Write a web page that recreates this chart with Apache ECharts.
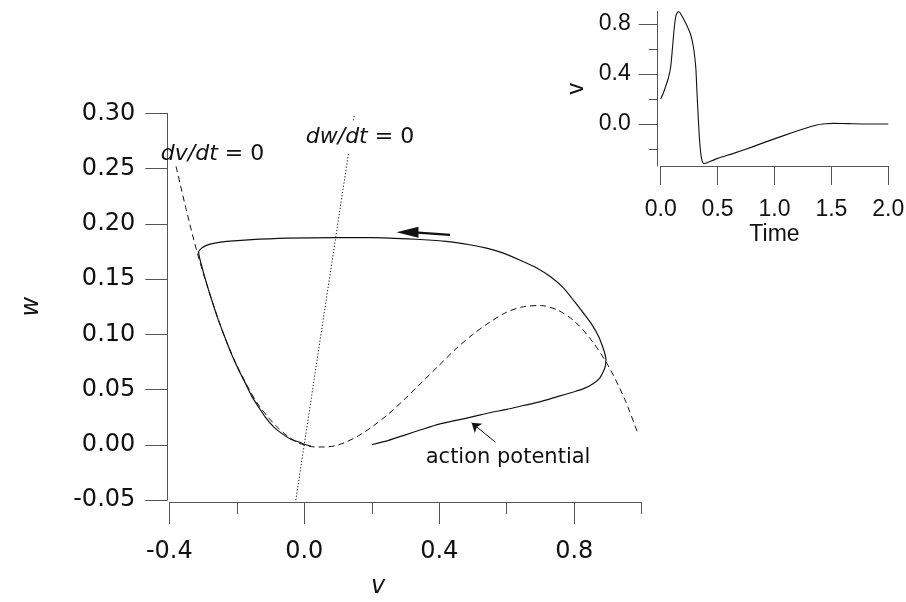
<!DOCTYPE html>
<html><head><meta charset="utf-8">
<script src="https://cdn.jsdelivr.net/npm/echarts@6/dist/echarts.min.js"></script>
<style>html,body{margin:0;padding:0;background:#fff}#c{width:906px;height:602px}</style>
</head><body><div id="c"></div>
<script>
// ---- Phase plane: trajectory (v, w) ----
const trajV = [0.20,0.25,0.30,0.35,0.40,0.45,0.50,0.55,0.60,0.65,0.70,0.75,0.80,0.83,0.857,0.875,0.886,0.892,0.894,
  0.892,0.885,0.872,0.852,0.827,0.80,0.768,0.73,0.689,0.64,0.59,0.54,0.49,0.42,0.33,0.20,0.09,-0.05,-0.166,-0.23,-0.265,-0.29,-0.304,-0.313,
  -0.309,-0.297,-0.284,-0.27,-0.255,-0.24,-0.225,-0.21,-0.195,-0.175,-0.156,-0.135,-0.116,-0.09,-0.067,-0.04,-0.018,0.0,0.02];
const trajW = [0.000,0.004,0.009,0.014,0.0187,0.022,0.0254,0.029,0.032,0.0355,0.039,0.0435,0.048,0.051,0.0555,0.060,0.066,0.071,0.0765,
  0.081,0.088,0.0982,0.109,0.1193,0.130,0.142,0.152,0.160,0.167,0.1735,0.178,0.181,0.184,0.186,0.1875,0.1875,0.187,0.1855,0.184,0.1825,0.1805,0.178,0.1745,
  0.1675,0.154,0.1404,0.127,0.1133,0.101,0.0892,0.078,0.0681,0.056,0.044,0.034,0.0253,0.016,0.0103,0.005,0.0027,0.0005,-0.0012];
// ---- dv/dt = 0 nullcline ----
const vNullV = [-0.38,-0.35,-0.32,-0.29,-0.26,-0.23,-0.20,-0.17,-0.14,-0.11,-0.08,-0.05,-0.02,0.00,0.03,0.06,0.09,0.12,0.16,0.20,0.25,0.30,0.35,0.40,0.45,0.50,0.55,0.60,0.65,0.70,0.75,0.80,0.85,0.90,0.95,0.99];
const vNullW = [0.252,0.213,0.177,0.146,0.118,0.093,0.072,0.054,0.038,0.026,0.016,0.008,0.002,0.000,-0.002,-0.002,-0.001,0.002,0.008,0.016,0.028,0.042,0.057,0.072,0.087,0.100,0.111,0.120,0.125,0.126,0.122,0.112,0.095,0.072,0.041,0.009];
// ---- dw/dt = 0 nullcline ----
const wNullV = [-0.025, 0.148];
const wNullW = [-0.05, 0.298];
// ---- arrows ----
const flowArrowV = [0.432, 0.337];
const flowArrowW = [0.190, 0.192];
const flowHead = [0.306, 0.1923];
const apArrow = [[0.567, 0.0022], [0.496, 0.0199]];
// ---- annotation texts ----
const notes = [
  {v: -0.272, w: 0.2632, text: '{i|dv/dt}{n| = 0}', bg: false},
  {v: 0.165, w: 0.2786, text: '{i|dw/dt}{n| = 0}', bg: true},
  {v: 0.604, w: -0.012, text: '{a|action potential}', bg: false}
];
// ---- main axes ticks ----
const mainXMajor = [-0.4, 0.0, 0.4, 0.8];
// ---- inset: v(t) ----
const insetT = [0.000,0.020,0.038,0.067,0.088,0.102,0.117,0.132,0.145,0.155,0.170,0.190,0.228,0.264,0.287,0.300,0.310,0.320,0.330,0.340,0.352,0.365,0.380,0.400,0.500,0.640,0.800,0.930,1.080,1.224,1.370,1.450,1.520,1.650,1.800,2.000];
const insetV = [0.200,0.240,0.286,0.366,0.458,0.592,0.752,0.858,0.890,0.898,0.890,0.858,0.792,0.712,0.618,0.530,0.430,0.230,0.050,-0.110,-0.235,-0.300,-0.318,-0.312,-0.275,-0.235,-0.185,-0.141,-0.093,-0.048,-0.008,0.002,0.005,0.003,0.000,0.000];
const insetXTicks = [0, 0.5, 1.0, 1.5, 2.0];
const insetYMajor = [0.0, 0.4, 0.8];
const insetYAll = [-0.2, 0.0, 0.2, 0.4, 0.6, 0.8];

const zip = (a, b) => a.map((x, i) => [x, b[i]]);
const AX = '#555', INK = '#111', TXT = '#111';
const mainFont = {fontFamily: 'DejaVu Sans', fontSize: 24, color: TXT};
const insetFont = {fontFamily: 'Liberation Sans', fontSize: 23, color: TXT};

const chart = echarts.init(document.getElementById('c'), null, {renderer: 'canvas'});
chart.setOption({
  animation: false,
  backgroundColor: '#fff',
  grid: [
    {left: 169.3, top: 113.3, width: 472.4, height: 386.7, outerBoundsMode: 'none'},
    {left: 660.7, top: 11.5, width: 227.6, height: 154.5, outerBoundsMode: 'none'}
  ],
  xAxis: [
    {gridIndex: 0, type: 'value', min: -0.4, max: 1.0, interval: 0.2, position: 'bottom', offset: 2,
     axisLine: {onZero: false, lineStyle: {color: AX, width: 1}}, axisTick: {length: 12, lineStyle: {color: AX}},
     axisLabel: {show: false}, splitLine: {show: false},
     name: 'v', nameLocation: 'middle', nameGap: 73, nameMoveOverlap: false,
     nameTextStyle: {fontFamily: 'DejaVu Sans', fontStyle: 'italic', fontSize: 24, color: TXT, padding: [0, 55, 0, 0]}},
    {gridIndex: 0, type: 'value', min: -0.4, max: 1.0, interval: 0.2, position: 'bottom', offset: 2,
     axisLine: {show: false, onZero: false}, axisTick: {customValues: mainXMajor, length: 22, lineStyle: {color: AX}},
     axisLabel: Object.assign({customValues: mainXMajor, margin: 38, formatter: v => v.toFixed(1)}, mainFont),
     splitLine: {show: false}},
    {gridIndex: 1, type: 'value', min: 0, max: 2, interval: 0.5, position: 'bottom',
     axisLine: {onZero: false, lineStyle: {color: AX}}, axisTick: {length: 19, lineStyle: {color: AX}},
     axisLabel: Object.assign({margin: 32, formatter: v => v.toFixed(1)}, insetFont),
     splitLine: {show: false},
     name: 'Time', nameLocation: 'middle', nameGap: 57, nameMoveOverlap: false, nameTextStyle: insetFont}
  ],
  yAxis: [
    {gridIndex: 0, type: 'value', min: -0.05, max: 0.30, interval: 0.05, position: 'left', offset: 2,
     axisLine: {onZero: false, lineStyle: {color: AX}}, axisTick: {length: 22, lineStyle: {color: AX}},
     axisLabel: Object.assign({margin: 32, formatter: v => v.toFixed(2)}, mainFont),
     splitLine: {show: false},
     name: 'w', nameLocation: 'middle', nameGap: 124, nameMoveOverlap: false,
     nameTextStyle: {fontFamily: 'DejaVu Sans', fontStyle: 'italic', fontSize: 24, color: TXT}},
    {gridIndex: 1, type: 'value', min: -0.336, max: 0.9, position: 'left', offset: 3,
     axisLine: {onZero: false, lineStyle: {color: AX}}, axisTick: {customValues: insetYAll, length: 9, lineStyle: {color: AX}},
     axisLabel: {show: false}, splitLine: {show: false}},
    {gridIndex: 1, type: 'value', min: -0.336, max: 0.9, position: 'left', offset: 3,
     axisLine: {show: false, onZero: false}, axisTick: {customValues: insetYMajor, length: 19, lineStyle: {color: AX}},
     axisLabel: Object.assign({customValues: insetYMajor, margin: 27, formatter: v => v.toFixed(1)}, insetFont),
     splitLine: {show: false},
     name: 'v', nameLocation: 'middle', nameGap: 70, nameMoveOverlap: false, nameTextStyle: insetFont}
  ],
  series: [
    {type: 'line', xAxisIndex: 0, yAxisIndex: 0, data: zip(vNullV, vNullW), showSymbol: false, smooth: 0.3,
     lineStyle: {color: INK, width: 1, type: [6, 4]}, z: 2},
    {type: 'line', xAxisIndex: 0, yAxisIndex: 0, data: zip(wNullV, wNullW), showSymbol: false,
     lineStyle: {color: INK, width: 1, type: [1.2, 2]}, z: 2},
    {type: 'line', xAxisIndex: 0, yAxisIndex: 0, data: zip(trajV, trajW), showSymbol: false, smooth: 0.2,
     lineStyle: {color: INK, width: 1.2}, z: 3},
    {type: 'line', xAxisIndex: 0, yAxisIndex: 0, data: zip(flowArrowV, flowArrowW), showSymbol: false,
     lineStyle: {color: INK, width: 2.2}, z: 4},
    {type: 'scatter', xAxisIndex: 0, yAxisIndex: 0, data: [flowHead], symbol: 'triangle', symbolSize: [11, 22],
     symbolRotate: 90, itemStyle: {color: INK, opacity: 1}, z: 4, silent: true},
    {type: 'lines', coordinateSystem: 'cartesian2d', xAxisIndex: 0, yAxisIndex: 0,
     data: [{coords: apArrow}], symbol: ['none', 'arrow'], symbolSize: 9,
     lineStyle: {color: INK, width: 1, opacity: 1}, z: 4, silent: true},
    {type: 'scatter', xAxisIndex: 0, yAxisIndex: 0, clip: false, z: 10, silent: true,
     data: notes.map(n => ({value: [n.v, n.w], text: n.text,
       label: n.bg ? {backgroundColor: '#fff', padding: [5, 2, 5, 2]} : {}})),
     symbolSize: 1, itemStyle: {color: 'rgba(0,0,0,0)', opacity: 1},
     label: {show: true, position: 'inside', color: TXT, opacity: 1, formatter: p => p.data.text,
       rich: {
         i: {fontFamily: 'DejaVu Sans', fontStyle: 'italic', fontSize: 22, color: TXT},
         n: {fontFamily: 'DejaVu Sans', fontSize: 22, color: TXT},
         a: {fontFamily: 'DejaVu Sans', fontSize: 21, color: TXT}
       }}},
    {type: 'line', xAxisIndex: 2, yAxisIndex: 1, data: zip(insetT, insetV), showSymbol: false, smooth: 0.15,
     lineStyle: {color: INK, width: 1.1}}
  ]
});
</script></body></html>
